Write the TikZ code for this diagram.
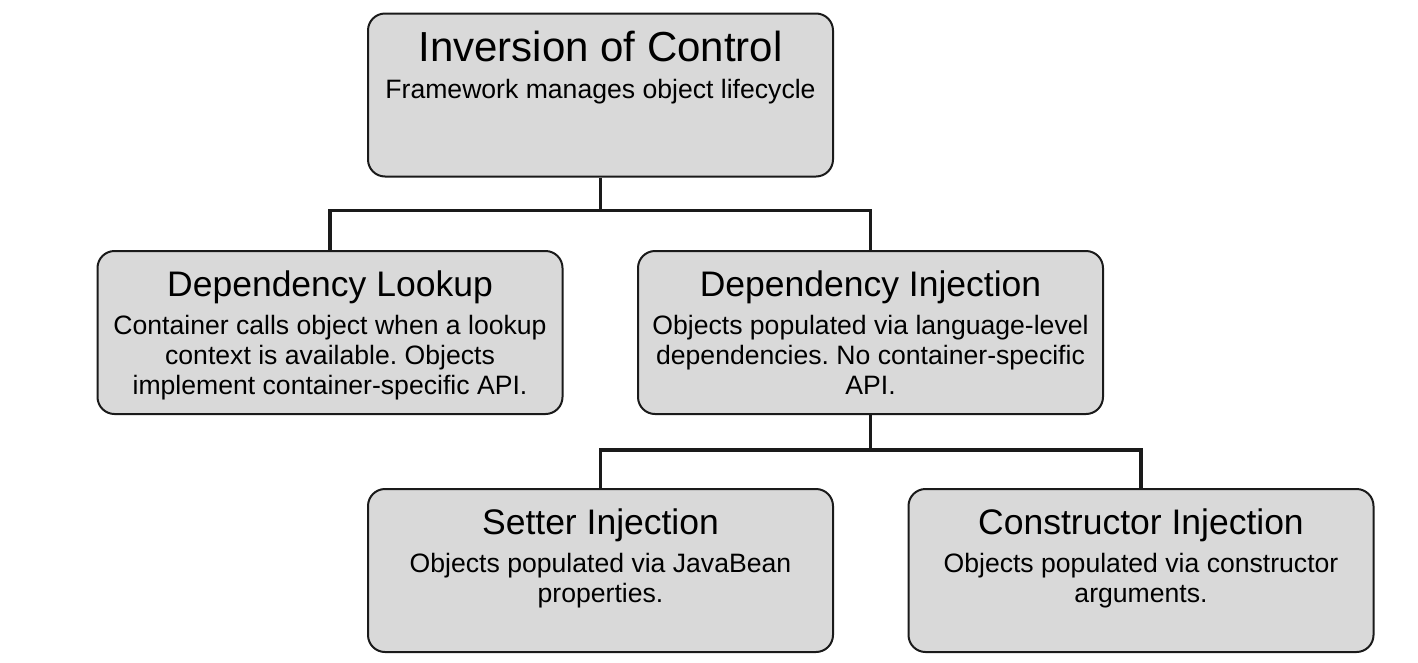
\documentclass[tikz,border=0pt]{standalone}
\usepackage{fontspec}
\setmainfont{Liberation Sans}
\frenchspacing
\definecolor{boxgray}{HTML}{D9D9D9}
\definecolor{edge}{HTML}{1A1A1A}
\begin{document}
\begin{tikzpicture}[x=1pt,y=-1pt,
  box/.style={draw=edge, line width=2pt, rounded corners=17pt, fill=boxgray,
    minimum width=465pt, minimum height=163pt, inner sep=0pt},
  conn/.style={draw=edge, line width=3.5pt},
  bigtitle/.style={font=\fontsize{42}{48}\selectfont, anchor=base, inner sep=0pt},
  titletxt/.style={font=\fontsize{35.5}{42}\selectfont, anchor=base, inner sep=0pt},
  bodytxt/.style={font=\fontsize{26.6}{30}\selectfont, align=center, anchor=north, inner sep=0pt}]
\fill[white] (0,0) rectangle (1418,662);
\useasboundingbox (0,0) rectangle (1418,662);

\node[box] (ioc) at (600.5,95) {};
\node[box] (dl) at (330,332.5) {};
\node[box] (di) at (870.5,332.5) {};
\node[box] (si) at (600.5,570.5) {};
\node[box] (ci) at (1141,570.5) {};

\draw[conn] (ioc.south) -- ++(0,33) coordinate (j1) -| (dl.north);
\draw[conn] (j1) -| (di.north);
\draw[conn] (di.south) -- ++(0,35) coordinate (j2) -| (si.north);
\draw[conn] (j2) -| (ci.north);

\node[bigtitle] (iocT) at ([yshift=-49pt]ioc.north) {Inversion of Control};
\node[bodytxt] (iocB) at ([yshift=-64pt]ioc.north) {\rule{0pt}{22pt}Framework manages object lifecycle};

\node[titletxt] (dlT) at ([yshift=-46pt]dl.north) {Dependency Lookup};
\node[bodytxt] (dlB) at ([yshift=-62pt]dl.north) {\rule{0pt}{22pt}Container calls object when a lookup\\context is available. Objects\\implement container-specific API.};

\node[titletxt] (diT) at ([yshift=-46pt]di.north) {Dependency Injection};
\node[bodytxt] (diB) at ([yshift=-62pt]di.north) {\rule{0pt}{22pt}Objects populated via language-level\\dependencies. No container-specific\\API.};

\node[titletxt] (siT) at ([yshift=-46pt]si.north) {Setter Injection};
\node[bodytxt] (siB) at ([yshift=-62pt]si.north) {\rule{0pt}{22pt}Objects populated via JavaBean\\properties.};

\node[titletxt] (ciT) at ([yshift=-46pt]ci.north) {Constructor Injection};
\node[bodytxt] (ciB) at ([yshift=-62pt]ci.north) {\rule{0pt}{22pt}Objects populated via constructor\\arguments.};
\end{tikzpicture}
\end{document}
